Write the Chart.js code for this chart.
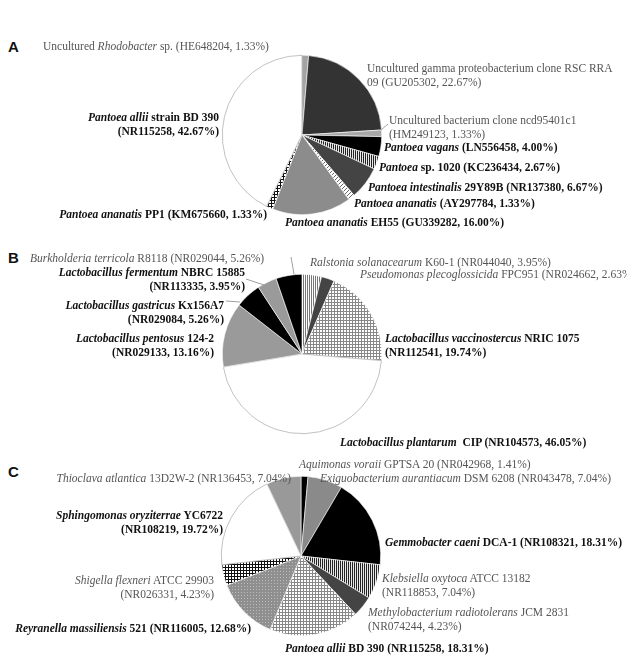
<!DOCTYPE html>
<html>
<head>
<meta charset="utf-8">
<script src="https://cdn.jsdelivr.net/npm/chart.js@4.4.0/dist/chart.umd.min.js"></script>
<style>
    body { margin: 0; background: #fff; }
    #page {
        position: relative;
        width: 627px;
        height: 657px;
        overflow: hidden;
        font-family: "Liberation Serif", "Times New Roman", serif;
        font-size: 11.5px;
    }
    .lbl { position: absolute; white-space: nowrap; line-height: 14px; color: #555; }
    .lbl.b { font-weight: bold; color: #111; }
    .lbl.r { text-align: right; }
    .lbl.wrap { white-space: normal; }
    .panel {
        position: absolute;
        font-family: "Liberation Sans", Arial, sans-serif;
        font-weight: bold;
        font-size: 15px;
        color: #111;
    }
    canvas { position: absolute; }
    svg { position: absolute; left: 0; top: 0; }
</style>
</head>
<body>
<div id="page">
    <div class="panel" style="left:8px;top:38px">A</div>
    <div class="panel" style="left:8px;top:249px">B</div>
    <div class="panel" style="left:8px;top:463px">C</div>
    <canvas id="pieA" width="170" height="170" style="left:217px;top:50px"></canvas>
    <canvas id="pieB" width="170" height="170" style="left:217px;top:269px"></canvas>
    <canvas id="pieC" width="170" height="170" style="left:216px;top:471px"></canvas>
    <svg width="627" height="657">
        <g stroke="#888" stroke-width="0.8">
            <line x1="381" y1="130" x2="388" y2="124"/>
            <line x1="291" y1="257" x2="294" y2="274"/>
            <line x1="246" y1="279" x2="264" y2="285"/>
            <line x1="226" y1="301" x2="240" y2="302"/>
        </g>
    </svg>
</div>

<script>
// ---- Panel A data (clockwise from 12 o'clock) ----
const namesA = [
    'Uncultured <i>Rhodobacter</i> sp.',
    'Uncultured gamma proteobacterium clone RSC RRA 09',
    'Uncultured bacterium clone ncd95401c1',
    '<i>Pantoea vagans</i>',
    '<i>Pantoea</i> sp. 1020',
    '<i>Pantoea intestinalis</i> 29Y89B',
    '<i>Pantoea ananatis</i>',
    '<i>Pantoea ananatis</i> EH55',
    '<i>Pantoea ananatis</i> PP1',
    '<i>Pantoea allii</i> strain BD 390'
];
const accA = ['HE648204', 'GU205302', 'HM249123', 'LN556458', 'KC236434', 'NR137380', 'AY297784', 'GU339282', 'KM675660', 'NR115258'];
const valuesA = [1.33, 22.67, 1.33, 4.00, 2.67, 6.67, 1.33, 16.00, 1.33, 42.67];
const fillsA = ['#a3a3a3', '#333333', '#a8a8a8', '#000000', 'vstripe', '#444444', 'diag', '#8c8c8c', 'checker', '#ffffff'];

// ---- Panel B data ----
const namesB = [
    '<i>Ralstonia solanacearum</i> K60-1',
    '<i>Pseudomonas plecoglossicida</i> FPC951',
    '<i>Lactobacillus vaccinostercus</i> NRIC 1075',
    '<i>Lactobacillus plantarum</i>&nbsp; CIP',
    '<i>Lactobacillus pentosus</i> 124-2',
    '<i>Lactobacillus gastricus</i> Kx156A7',
    '<i>Lactobacillus fermentum</i> NBRC 15885',
    '<i>Burkholderia terricola</i> R8118'
];
const accB = ['NR044040', 'NR024662', 'NR112541', 'NR104573', 'NR029133', 'NR029084', 'NR113335', 'NR029044'];
const valuesB = [3.95, 2.63, 19.74, 46.05, 13.16, 5.26, 3.95, 5.26];
const fillsB = ['vstripeLight', '#444444', 'grid', '#ffffff', '#9a9a9a', '#000000', '#9a9a9a', '#000000'];

// ---- Panel C data ----
const namesC = [
    '<i>Aquimonas voraii</i> GPTSA 20',
    '<i>Exiguobacterium aurantiacum</i> DSM 6208',
    '<i>Gemmobacter caeni</i> DCA-1',
    '<i>Klebsiella oxytoca</i> ATCC 13182',
    '<i>Methylobacterium radiotolerans</i> JCM 2831',
    '<i>Pantoea allii</i> BD 390',
    '<i>Reyranella massiliensis</i> 521',
    '<i>Shigella flexneri</i> ATCC 29903',
    '<i>Sphingomonas oryziterrae</i> YC6722',
    '<i>Thioclava atlantica</i> 13D2W-2'
];
const accC = ['NR042968', 'NR043478', 'NR108321', 'NR118853', 'NR074244', 'NR115258', 'NR116005', 'NR026331', 'NR108219', 'NR136453'];
const valuesC = [1.41, 7.04, 18.31, 7.04, 4.23, 18.31, 12.68, 4.23, 19.72, 7.04];
const fillsC = ['#000000', '#8a8a8a', '#000000', 'vstripe', '#444444', 'grid', 'dots', 'checker', '#ffffff', '#999999'];

// Label placement: [x, y(center of first line), bold, break before accession, align, extra class, width]
const layoutA = [
    [43, 46, false, false, 'l'],
    [367, 68, false, false, 'l', 'wrap', 245],
    [389, 120, false, true, 'l'],
    [384, 147, true, false, 'l'],
    [379, 167, true, false, 'l'],
    [368, 187, true, false, 'l'],
    [354, 203, true, false, 'l'],
    [285, 222, true, false, 'l'],
    [267, 214, true, false, 'r'],
    [219, 117, true, true, 'r']
];
const layoutB = [
    [310, 262, false, false, 'l'],
    [360, 274, false, false, 'l'],
    [385, 338, true, true, 'l'],
    [340, 442, true, false, 'l'],
    [214, 338, true, true, 'r'],
    [224, 305, true, true, 'r'],
    [245, 272, true, true, 'r'],
    [30, 258, false, false, 'l']
];
const layoutC = [
    [299, 464, false, false, 'l'],
    [320, 478, false, false, 'l'],
    [385, 542, true, false, 'l'],
    [382, 578, false, true, 'l'],
    [368, 612, false, true, 'l'],
    [285, 648, true, false, 'l'],
    [251, 628, true, false, 'r'],
    [214, 580, false, true, 'r'],
    [223, 515, true, true, 'r'],
    [291, 478, false, false, 'r']
];

// Build canvas pattern fills for the hatched slices
function makePattern(kind) {
    const c = document.createElement('canvas');
    const g = c.getContext('2d');
    if (kind === 'vstripe' || kind === 'vstripeLight') {
        c.width = 2; c.height = 2;
        g.fillStyle = kind === 'vstripe' ? '#e8e8e8' : '#fff';
        g.fillRect(0, 0, 2, 2);
        g.fillStyle = kind === 'vstripe' ? '#222' : '#777';
        g.fillRect(0, 0, 1, 2);
    } else if (kind === 'grid') {
        c.width = 3; c.height = 3;
        g.fillStyle = '#fff'; g.fillRect(0, 0, 3, 3);
        g.fillStyle = '#888';
        g.fillRect(0, 0, 3, 1);
        g.fillRect(0, 0, 1, 3);
    } else if (kind === 'checker') {
        c.width = 3; c.height = 3;
        g.fillStyle = '#111'; g.fillRect(0, 0, 3, 3);
        g.fillStyle = '#fff'; g.fillRect(1, 1, 2, 2);
    } else if (kind === 'diag') {
        c.width = 4; c.height = 4;
        g.fillStyle = '#fff'; g.fillRect(0, 0, 4, 4);
        g.fillStyle = '#666';
        for (let i = 0; i < 4; i++) g.fillRect(i, 3 - i, 1, 1);
    } else if (kind === 'dots') {
        c.width = 3; c.height = 3;
        g.fillStyle = '#8f8f8f'; g.fillRect(0, 0, 3, 3);
        g.fillStyle = '#bdbdbd'; g.fillRect(1, 1, 1, 1);
    }
    return g.createPattern(c, 'repeat');
}

function resolveFill(f) {
    return f.charAt(0) === '#' ? f : makePattern(f);
}

function drawPie(id, values, fills) {
    const ctx = document.getElementById(id);
    new Chart(ctx, {
        type: 'pie',
        data: {
            labels: values.map((v, i) => String(i)),
            datasets: [{
                data: values,
                backgroundColor: fills.map(resolveFill),
                borderColor: fills.map(f => f === '#ffffff' ? '#999' : '#fff'),
                borderWidth: 0.6
            }]
        },
        options: {
            responsive: false,
            animation: false,
            layout: { padding: 5 },
            plugins: {
                legend: { display: false },
                tooltip: { enabled: false }
            }
        }
    });
}

function placeLabels(names, acc, values, layout) {
    const page = document.getElementById('page');
    names.forEach((name, i) => {
        const [x, y, bold, brk, align, extra, width] = layout[i];
        const el = document.createElement('div');
        el.className = 'lbl' + (bold ? ' b' : '') + (align === 'r' ? ' r' : '') + (extra ? ' ' + extra : '');
        el.innerHTML = name + (brk ? '<br>' : ' ') + '(' + acc[i] + ', ' + values[i].toFixed(2) + '%)';
        el.style.top = (y - 7) + 'px';
        if (align === 'r') el.style.right = (627 - x) + 'px';
        else el.style.left = x + 'px';
        if (width) el.style.width = width + 'px';
        page.appendChild(el);
    });
}

drawPie('pieA', valuesA, fillsA);
drawPie('pieB', valuesB, fillsB);
drawPie('pieC', valuesC, fillsC);
placeLabels(namesA, accA, valuesA, layoutA);
placeLabels(namesB, accB, valuesB, layoutB);
placeLabels(namesC, accC, valuesC, layoutC);
</script>
</body>
</html>
